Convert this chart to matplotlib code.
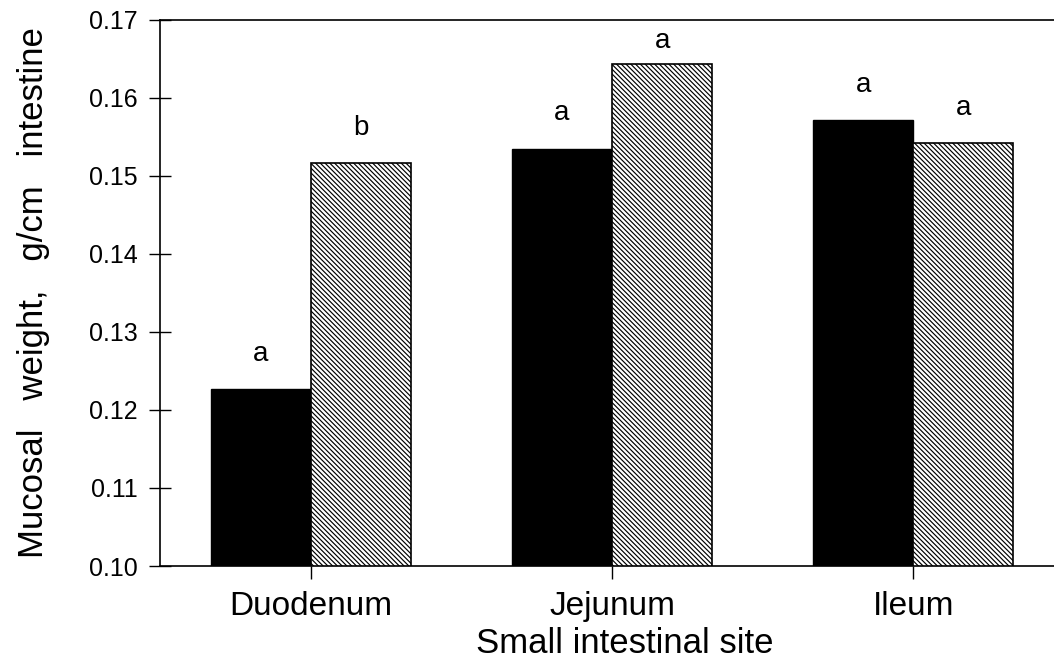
import numpy as np
import matplotlib.pyplot as plt

plt.rcParams['hatch.linewidth'] = 0.85
plt.rcParams['font.family'] = ['Liberation Sans', 'DejaVu Sans']

sites = ['Duodenum', 'Jejunum', 'Ileum']
solid_vals = [0.1227, 0.1535, 0.1572]
hatch_vals = [0.1516, 0.1644, 0.1542]
solid_letters = ['a', 'a', 'a']
hatch_letters = ['b', 'a', 'a']
yticks = [0.10, 0.11, 0.12, 0.13, 0.14, 0.15, 0.16, 0.17]

fig = plt.figure(figsize=(10.54, 6.62), dpi=100)
ax = fig.add_axes([0.1518, 0.145, 0.858, 0.825])

x = np.arange(len(sites))
w = 0.333
b1 = ax.bar(x - w / 2, solid_vals, w, color='black', edgecolor='black', linewidth=1)
b2 = ax.bar(x + w / 2, hatch_vals, w, color='white', edgecolor='black',
            hatch='\\' * 7, linewidth=1.2)

ymax = 0.17
for bars, letters in [(b1, solid_letters), (b2, hatch_letters)]:
    for bar, lab in zip(bars, letters):
        top = bar.get_height()
        off = 16 if ymax - top > 0.007 else 7
        ax.annotate(lab, (bar.get_x() + bar.get_width() / 2, top), xytext=(0, off),
                    textcoords='offset points', ha='center', va='bottom', fontsize=20)

ax.set_ylim(0.10, ymax)
ax.set_xlim(-0.502, 2.502)
ax.set_yticks(yticks)
ax.set_yticklabels([f'{v:.2f}' for v in yticks], fontsize=18)
ax.set_xticks(x)
ax.set_xticklabels(sites, fontsize=24)
ax.tick_params(axis='y', direction='inout', length=16, width=1, pad=8)
ax.tick_params(axis='x', direction='out', length=9, width=1, pad=9)

for s in ['left', 'bottom', 'top']:
    ax.spines[s].set_linewidth(1.2)
ax.spines['right'].set_visible(False)

ax.set_ylabel('Mucosal   weight,   g/cm   intestine', fontsize=25, labelpad=28)
ax.set_xlabel('Small intestinal site', fontsize=25)
ax.xaxis.set_label_coords(0.514, -0.112, transform=ax.transAxes)

fig.savefig('out.png', dpi=100)
